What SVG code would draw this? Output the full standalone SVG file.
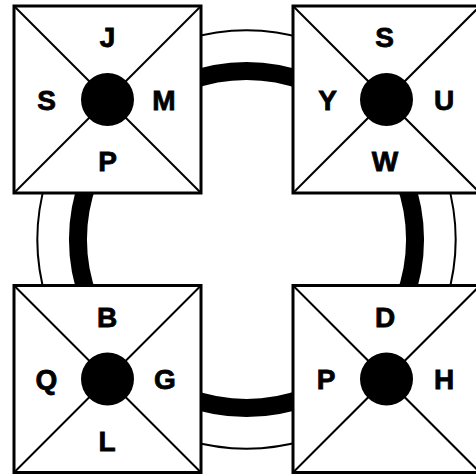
<svg xmlns="http://www.w3.org/2000/svg" width="476" height="474" viewBox="0 0 476 474">
<style>
.box{fill:#fff;stroke:#000;stroke-width:3}
.diag{stroke:#000;stroke-width:2}
.hub{fill:#000}
.lbl{font-family:"Liberation Sans",Arial,sans-serif;font-weight:bold;font-size:28px;fill:#000;stroke:#000;stroke-width:0.8;text-anchor:middle}
.thin{fill:none;stroke:#000;stroke-width:2}
.thick{fill:none;stroke:#000;stroke-width:18}
</style>
<rect width="476" height="474" fill="#fff"/>
<g id="connectors">
<path class="thin" d="M186.5 39.3 A209 209 0 0 1 306.5 39.3"/>
<path class="thin" d="M186.5 439.7 A209 209 0 0 0 306.5 439.7"/>
<path class="thin" d="M46.3 179.5 A209 209 0 0 0 46.3 299.5"/>
<path class="thin" d="M446.7 179.5 A209 209 0 0 1 446.7 299.5"/>
<path class="thick" d="M186.5 82 A168.5 168.5 0 0 1 306.5 82"/>
<path class="thick" d="M186.5 397 A168.5 168.5 0 0 0 306.5 397"/>
<path class="thick" d="M89 179.5 A168.5 168.5 0 0 0 89 299.5"/>
<path class="thick" d="M404 179.5 A168.5 168.5 0 0 1 404 299.5"/>
</g>
<g id="node-tl">
<rect class="box" x="14" y="6" width="187" height="187"/>
<line class="diag" x1="14" y1="6" x2="201" y2="193"/>
<line class="diag" x1="201" y1="6" x2="14" y2="193"/>
<circle class="hub" cx="107.5" cy="99.5" r="26.5"/>
<text class="lbl" x="107.5" y="46.5">J</text>
<text class="lbl" x="46.5" y="109.5">S</text>
<text class="lbl" x="164" y="109.5">M</text>
<text class="lbl" x="107.5" y="171">P</text>
</g>
<g id="node-tr">
<rect class="box" x="293" y="6" width="187" height="187"/>
<line class="diag" x1="293" y1="6" x2="480" y2="193"/>
<line class="diag" x1="480" y1="6" x2="293" y2="193"/>
<circle class="hub" cx="386.5" cy="99.5" r="26.5"/>
<text class="lbl" x="384.5" y="46.5">S</text>
<text class="lbl" x="327.5" y="109.5">Y</text>
<text class="lbl" x="444" y="109.5">U</text>
<text class="lbl" x="385" y="171">W</text>
</g>
<g id="node-bl">
<rect class="box" x="14" y="285.5" width="187" height="187"/>
<line class="diag" x1="14" y1="285.5" x2="201" y2="472.5"/>
<line class="diag" x1="201" y1="285.5" x2="14" y2="472.5"/>
<circle class="hub" cx="107.5" cy="379" r="26.5"/>
<text class="lbl" x="107" y="327">B</text>
<text class="lbl" x="46.5" y="388.5">Q</text>
<text class="lbl" x="165" y="388.5">G</text>
<text class="lbl" x="107" y="451">L</text>
</g>
<g id="node-br">
<rect class="box" x="293" y="285.5" width="187" height="187"/>
<line class="diag" x1="293" y1="285.5" x2="480" y2="472.5"/>
<line class="diag" x1="480" y1="285.5" x2="293" y2="472.5"/>
<circle class="hub" cx="386.5" cy="379" r="26.5"/>
<text class="lbl" x="385" y="327">D</text>
<text class="lbl" x="326" y="388.5">P</text>
<text class="lbl" x="444" y="388.5">H</text>
</g>
</svg>
